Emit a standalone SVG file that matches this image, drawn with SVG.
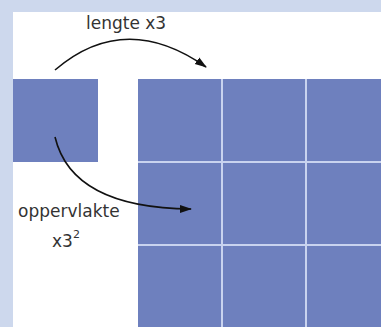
<svg xmlns="http://www.w3.org/2000/svg" width="381" height="327" viewBox="0 0 381 327">
<style>
.sq{fill:#6e80be}
.grid{stroke:#c9d3ef;stroke-width:2;fill:none}
.lbl{font-family:"DejaVu Sans",Verdana,sans-serif;font-size:17px;fill:#333}
.arr{fill:none;stroke:#111;stroke-width:1.6;marker-end:url(#ah)}
</style>
<defs>
<marker id="ah" markerWidth="12" markerHeight="10" refX="11" refY="5" orient="auto" markerUnits="userSpaceOnUse">
<path d="M0,1 L12,5 L0,9 Z" fill="#111"/>
</marker>
</defs>
<rect width="381" height="327" fill="#cdd8ed"/>
<rect x="13" y="12" width="368" height="315" fill="#fff"/>
<g id="small-square">
<rect class="sq" x="13" y="79" width="85" height="83"/>
</g>
<g id="big-square">
<rect class="sq" x="138" y="79" width="243" height="248"/>
<path class="grid" d="M222,79V327M306,79V327M138,162H381M138,245H381"/>
</g>
<g id="connectors">
<path class="arr" d="M55,70 Q125,10 206,67"/>
<path class="arr" d="M55,137 Q72,208 191,209"/>
</g>
<g id="labels">
<text class="lbl" x="86" y="29">lengte x3</text>
<text class="lbl" x="18" y="217">oppervlakte</text>
<text class="lbl" x="52" y="247">x3<tspan font-size="11" dy="-9">2</tspan></text>
</g>
</svg>
